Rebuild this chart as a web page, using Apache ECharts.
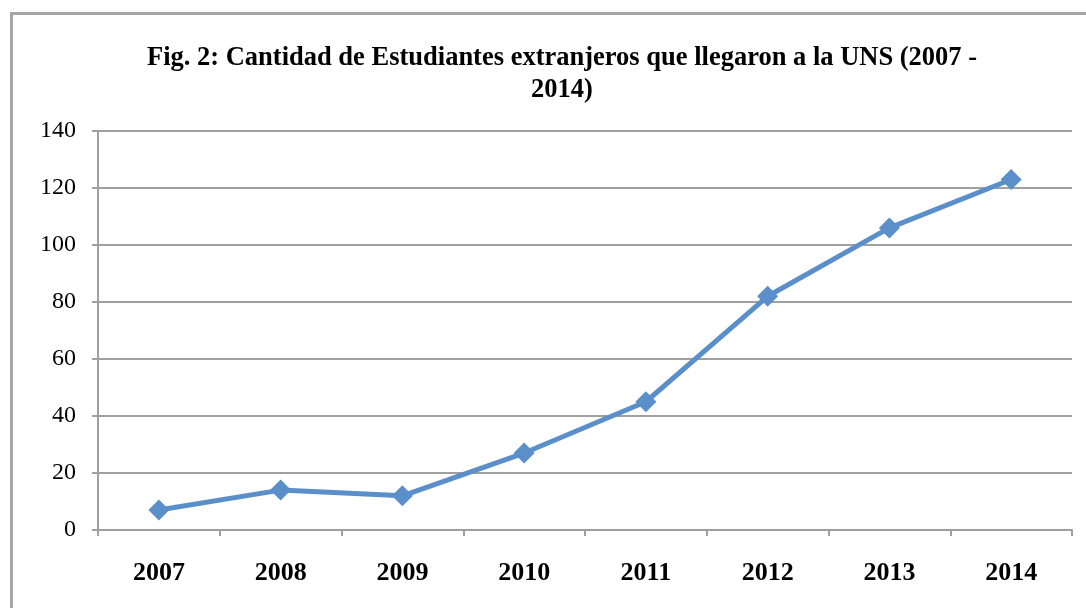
<!DOCTYPE html>
<html>
<head>
<meta charset="utf-8">
<script src="https://cdn.jsdelivr.net/npm/echarts@6/dist/echarts.min.js"></script>
<style>
  html, body { margin: 0; padding: 0; background: #fff; overflow: hidden; }
  #frame {
    position: absolute; left: 10px; top: 12px; width: 1100px; height: 640px;
    border: 3px solid #a6a6a6; box-sizing: border-box;
  }
  #chart { position: absolute; left: 0; top: 0; width: 1086px; height: 608px; }
</style>
</head>
<body>
<div id="frame"></div>
<div id="chart"></div>
<script>
const years = ['2007', '2008', '2009', '2010', '2011', '2012', '2013', '2014'];
const students = [7, 14, 12, 27, 45, 82, 106, 123];
const titleLines = ['Fig. 2: Cantidad de Estudiantes extranjeros que llegaron a la UNS (2007 -', '2014)'];

const chart = echarts.init(document.getElementById('chart'), null, { renderer: 'canvas' });

const axisGray = '#a0a0a0';
const serif = '"Liberation Serif", "Times New Roman", serif';

chart.setOption({
    backgroundColor: 'transparent',
    animation: false,
    title: {
        text: titleLines.join('\n'),
        left: 557,
        top: 37,
        textAlign: 'center',
        textStyle: {
            fontFamily: serif,
            fontWeight: 'bold',
            fontSize: 26.5,
            lineHeight: 32,
            color: '#000'
        }
    },
    grid: {
        left: 98,
        right: 14,
        top: 131,
        bottom: 78,
        containLabel: false
    },
    xAxis: {
        type: 'category',
        data: years,
        boundaryGap: true,
        axisLine: { lineStyle: { color: axisGray, width: 2 } },
        axisTick: { show: true, length: 6, lineStyle: { color: axisGray, width: 2 } },
        axisLabel: {
            margin: 30,
            fontFamily: serif,
            fontWeight: 'bold',
            fontSize: 26,
            color: '#000'
        },
        splitLine: { show: false }
    },
    yAxis: {
        type: 'value',
        min: 0,
        max: 140,
        interval: 20,
        axisLine: { show: true, lineStyle: { color: axisGray, width: 2 } },
        axisTick: { show: true, length: 6, lineStyle: { color: axisGray, width: 2 } },
        axisLabel: {
            margin: 22,
            fontFamily: serif,
            fontSize: 24,
            color: '#000'
        },
        splitLine: { lineStyle: { color: axisGray, width: 2 } }
    },
    series: [
        {
            type: 'line',
            data: students,
            symbol: 'diamond',
            symbolSize: 21,
            lineStyle: { color: '#5b8fca', width: 5 },
            itemStyle: { color: '#5b8fca' }
        }
    ]
});
</script>
</body>
</html>
